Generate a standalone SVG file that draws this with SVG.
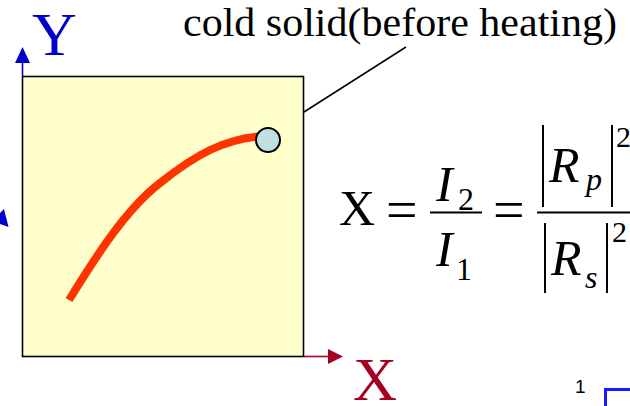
<svg xmlns="http://www.w3.org/2000/svg" width="630" height="406" viewBox="0 0 630 406">
<style>
.serif{font-family:"Liberation Serif","Times New Roman",serif;fill:#000}
.it{font-style:italic}
.rule{stroke:#000;stroke-width:2;fill:none}
</style>
<rect width="630" height="406" fill="#fff"/>
<g id="plot">
<rect x="22.5" y="76.5" width="281" height="280" fill="#FFFFCC" stroke="#000" stroke-width="1.6"/>
</g>
<g id="connectors">
<line x1="22.5" y1="76" x2="22.5" y2="60" stroke="#0000CC" stroke-width="1.6"/>
<polygon points="22.5,47 15,63 30,63" fill="#0000CC"/>
<line x1="304" y1="356.5" x2="330" y2="356.5" stroke="#A50021" stroke-width="1.6"/>
<polygon points="343,356.5 328,349 328,364" fill="#A50021"/>
<polygon points="4,209 8.5,227 0,224 0,213" fill="#0000CC"/>
<line x1="304" y1="112" x2="406" y2="47" stroke="#000" stroke-width="1.5"/>
</g>
<g id="curve">
<path d="M69,300 C95,258 125,210 160,183 C195,155 225,138 265,136" fill="none" stroke="#FF3300" stroke-width="8"/>
<circle cx="268" cy="140" r="12" fill="#BFDFE0" stroke="#000" stroke-width="2"/>
</g>
<g id="labels">
<text class="serif" x="32" y="55" font-size="62" style="fill:#0000CC">Y</text>
<text class="serif" x="353" y="400" font-size="61" style="fill:#A50021">X</text>
<text class="serif" x="183" y="36" font-size="39" textLength="434" lengthAdjust="spacingAndGlyphs">cold solid(before heating)</text>
<text x="575" y="393" font-family="Liberation Sans, Arial, sans-serif" font-size="19" fill="#000">1</text>
<polyline points="605.5,406 605.5,389.5 630,389.5" fill="none" stroke="#1a1aff" stroke-width="3"/>
</g>
<g id="equation">
<text class="serif" x="339" y="225" font-size="50">X</text>
<text class="serif" x="386" y="229" font-size="56">=</text>
<text class="serif it" x="436" y="201" font-size="50">I</text>
<text class="serif" x="458" y="210" font-size="32">2</text>
<line class="rule" x1="430" y1="212.5" x2="482" y2="212.5"/>
<text class="serif it" x="436" y="266" font-size="50">I</text>
<text class="serif" x="456" y="280" font-size="32">1</text>
<text class="serif" x="493" y="229" font-size="56">=</text>
<line class="rule" x1="537" y1="212.5" x2="630" y2="212.5"/>
<line class="rule" x1="543" y1="125" x2="543" y2="207"/>
<text class="serif it" x="549" y="182" font-size="50">R</text>
<text class="serif it" x="586" y="190" font-size="32">p</text>
<line class="rule" x1="612" y1="125" x2="612" y2="207"/>
<text class="serif" x="616" y="147" font-size="30">2</text>
<line class="rule" x1="545" y1="223" x2="545" y2="293"/>
<text class="serif it" x="551" y="275" font-size="50">R</text>
<text class="serif it" x="585" y="288" font-size="32">s</text>
<line class="rule" x1="607" y1="223" x2="607" y2="293"/>
<text class="serif" x="612" y="242" font-size="30">2</text>
</g>
</svg>
